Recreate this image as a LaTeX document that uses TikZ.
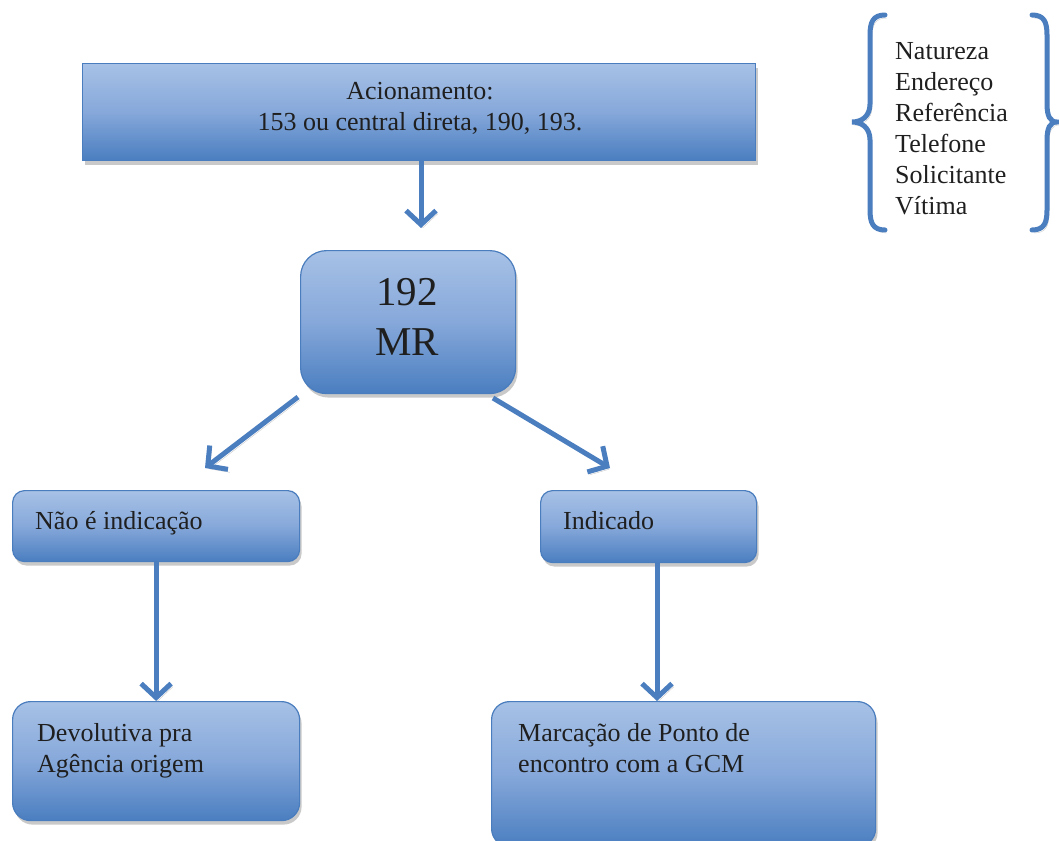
\documentclass[tikz,border=0pt]{standalone}
\usepackage{fontspec}
\setmainfont{Liberation Serif}
\usetikzlibrary{arrows.meta,shadows}
\definecolor{boxtop}{HTML}{A7C1E6}
\definecolor{boxmid}{HTML}{86A8DA}
\definecolor{boxbot}{HTML}{4A7EC0}
\definecolor{boxline}{HTML}{4A7DBD}
\definecolor{arrowblue}{HTML}{4A7EBF}
\definecolor{shadowgray}{HTML}{C9C9C9}
\tikzset{
  box/.style={draw=boxline, line width=1.2pt, top color=boxtop, bottom color=boxbot, middle color=boxmid,
    drop shadow={shadow xshift=2pt, shadow yshift=-4pt, fill=shadowgray, opacity=1},
    inner sep=0pt, anchor=north west},
  flowarrow/.style={draw=arrowblue, line width=5pt,
    -{Straight Barb[length=14pt,width=30pt,line width=5pt]},
    preaction={draw=shadowgray, transform canvas={shift={(2pt,-3pt)}}}},
  bracestyle/.style={draw=arrowblue, line width=5pt, line cap=round,
    preaction={draw=shadowgray, transform canvas={shift={(2pt,-3pt)}}}},
  txt/.style={font=\fontsize{26}{31}\selectfont, inner sep=0pt, text=black!88},
  bigtxt/.style={font=\fontsize{41}{50}\selectfont, inner sep=0pt, text=black!88, align=center},
}
\begin{document}
\begin{tikzpicture}[x=1pt,y=-1pt]
\useasboundingbox (0,0) rectangle (1059,840);

% boxes
\node[box, minimum width=673pt, minimum height=97pt] (top) at (82,63) {};
\node[box, rounded corners=26pt, minimum width=215pt, minimum height=143pt] (mr) at (300,250) {};
\node[box, rounded corners=12pt, minimum width=287pt, minimum height=71pt] (nao) at (12,490) {};
\node[box, rounded corners=12pt, minimum width=216pt, minimum height=72pt] (ind) at (540,490) {};
\node[box, rounded corners=18pt, minimum width=287pt, minimum height=119pt] (dev) at (12,701) {};
\node[box, rounded corners=18pt, minimum width=384pt, minimum height=145pt] (mar) at (491,701) {};

% texts (base = baseline of the last line)
\node[txt, align=center, anchor=base] (ttop) at (420,131) {Acionamento:\\153 ou central direta, 190, 193.};
\node[bigtxt, anchor=base] (tmr) at (407,355) {192\\MR};
\node[txt, anchor=base west] (tnao) at (35,529) {Não é indicação};
\node[txt, anchor=base west] (tind) at (563,529) {Indicado};
\node[txt, anchor=base west, align=left] (tdev) at (37,772) {Devolutiva pra\\Agência origem};
\node[txt, anchor=base west, align=left] (tmar) at (518,772) {Marcação de Ponto de\\encontro com a GCM};
\node[txt, anchor=base west, align=left] (tlist) at (895,214) {Natureza\\Endereço\\Referência\\Telefone\\Solicitante\\Vítima};

% connectors
\coordinate (a1s) at (421,160);
\coordinate (a1e) at (421,228);
\coordinate (a2s) at (298,397);
\coordinate (a2e) at (205,468);
\coordinate (a3s) at (493,398);
\coordinate (a3e) at (610,468);
\coordinate (a5s) at (657,562);
\coordinate (a5e) at (657,701);
\draw[flowarrow] (a1s) -- (a1e);
\draw[flowarrow] (a2s) -- (a2e);
\draw[flowarrow] (a3s) -- (a3e);
\draw[flowarrow] (nao.south) -- (dev.north -| nao.south);
\draw[flowarrow] (a5s) -- (a5e);

% braces
\draw[bracestyle] (885,15) .. controls (873,15) and (870,22) .. (870,35) -- (870,104)
  .. controls (870,116) and (862,122) .. (852,122)
  .. controls (862,122) and (870,128) .. (870,140) -- (870,210)
  .. controls (870,223) and (873,230) .. (885,230);
\draw[bracestyle] (1032,15) .. controls (1044,15) and (1047,22) .. (1047,35) -- (1047,104)
  .. controls (1047,116) and (1050,122) .. (1057,122)
  .. controls (1050,122) and (1047,128) .. (1047,140) -- (1047,210)
  .. controls (1047,223) and (1044,230) .. (1032,230);
\end{tikzpicture}
\end{document}
